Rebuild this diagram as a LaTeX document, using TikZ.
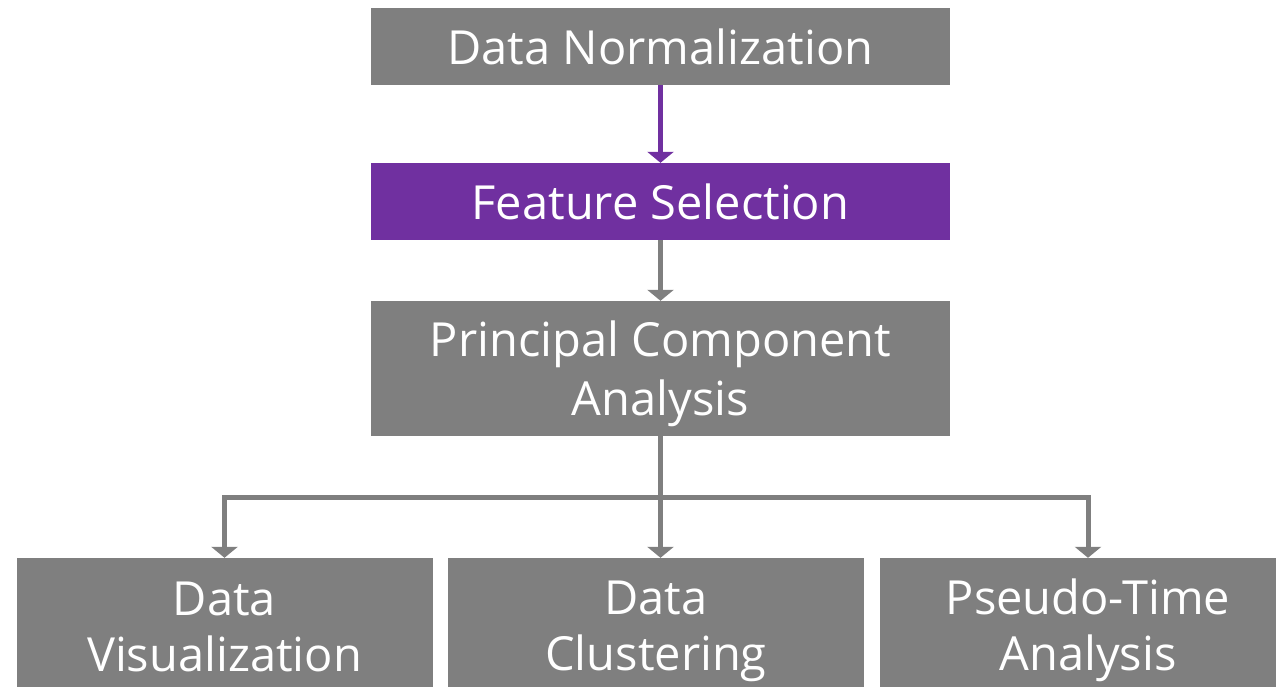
\documentclass[tikz,border=0pt]{standalone}
\usepackage{fontspec}
\setmainfont{Open Sans}
\usetikzlibrary{arrows.meta}
\definecolor{boxgray}{RGB}{127,127,127}
\definecolor{boxpurple}{RGB}{112,48,160}
\newcommand{\lnstrut}{\rule[-10pt]{0pt}{56pt}}
\begin{document}
\begin{tikzpicture}[x=1pt,y=-1pt,
  box/.style={fill=boxgray, draw=none, text=white, inner sep=0pt, align=center,
    font=\fontsize{47}{56}\selectfont},
  topbox/.style={box, minimum width=579pt},
  botbox/.style={box, minimum width=416pt, minimum height=135pt},
  garrow/.style={draw=boxgray, line width=5pt, -{Triangle[width=26pt,length=11pt]}},
  gline/.style={draw=boxgray, line width=5pt},
  parrow/.style={draw=boxpurple, line width=5pt, -{Triangle[width=26pt,length=11pt]}}]
\useasboundingbox (0,0) rectangle (1276,687);
\clip (0,0) rectangle (1276,687);
\node[topbox, minimum height=77pt] (dn) at (660.5,46.5) {\lnstrut Data Normalization};
\node[topbox, minimum height=77pt, fill=boxpurple] (fs) at (660.5,201.5) {\lnstrut Feature Selection};
\node[topbox, minimum height=135pt] (pca) at (660.5,368.5) {\lnstrut Principal Component\\\lnstrut Analysis};
\node[botbox] (dv) at (224.5,625.5) {\lnstrut Data\\\lnstrut Visualization};
\node[botbox] (dc) at (656,625.5) {\lnstrut Data\\\lnstrut Clustering};
\node[botbox] (pt) at (1088,625.5) {\lnstrut Pseudo-Time\\\lnstrut Analysis};
\coordinate (j) at (660.5,497);
\draw[parrow] (dn.south) -- (fs.north);
\draw[garrow] (fs.south) -- (pca.north);
\draw[gline] (pca.south) -- (j);
\draw[garrow] (j) -- (j |- dc.north);
\draw[garrow] (j) -| (dv.north);
\draw[garrow] (j) -| (pt.north);
\end{tikzpicture}
\end{document}
